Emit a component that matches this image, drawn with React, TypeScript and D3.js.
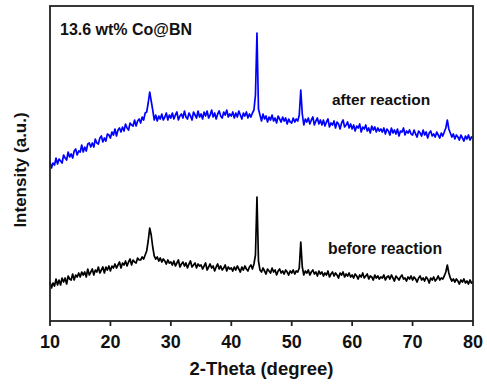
import React from "react";
import * as d3 from "d3";

// 2-theta sampling grid (degrees)
const angles: number[] = d3.range(0, 281).map((i) => 10 + i * 0.25);

const xTicks = [10, 20, 30, 40, 50, 60, 70, 80];

// after reaction (blue), intensity (a.u.)
const afterReaction: number[] = [
  159,153,158,156,163,157,162,160,158,166,163,161,169,164,167,163,170,172,166,170,
  169,176,169,174,170,177,178,174,178,174,182,178,177,183,185,179,183,180,187,186,
  183,189,186,192,185,191,193,189,194,190,197,193,191,198,196,195,201,195,200,202,
  198,204,201,208,209,218,229,220,211,201,206,200,205,202,207,201,204,208,201,206,
  203,208,202,206,209,201,205,207,203,210,204,202,208,205,201,209,206,203,210,204,
  207,202,209,205,210,203,206,211,204,208,202,207,210,205,203,209,206,211,204,207,
  205,209,203,208,204,210,206,202,208,205,209,203,207,204,208,211,226,288,212,206,
  200,207,202,205,199,204,201,206,200,203,198,205,202,199,204,200,203,197,202,199,
  198,203,199,202,200,206,231,207,196,202,199,203,197,201,204,196,200,203,197,201,
  196,201,195,199,202,194,198,196,200,193,199,197,192,198,201,194,196,199,193,197,
  192,196,190,195,193,197,189,194,192,196,190,193,188,195,191,194,189,193,190,192,
  189,193,187,192,190,186,193,188,191,187,192,185,190,189,193,186,190,188,191,187,
  186,191,187,184,190,188,185,191,186,189,183,188,190,185,187,184,189,186,183,188,
  185,189,193,201,192,188,184,187,182,186,184,181,186,183,180,185,182,186,181,184,
  183,
];

// before reaction (black), intensity (a.u.)
const beforeReaction: number[] = [
  39,33,38,35,42,36,41,36,43,39,43,37,45,42,41,47,41,46,44,48,
  44,49,46,49,44,52,46,49,52,46,51,49,54,48,51,54,48,54,51,55,
  50,55,53,57,53,56,59,53,58,56,60,55,59,62,56,61,59,58,63,61,
  61,64,62,66,70,80,93,86,74,65,62,64,60,63,59,62,60,57,61,58,
  59,56,60,55,58,61,54,57,59,55,58,53,57,60,54,56,58,53,57,55,
  56,52,55,58,51,54,57,53,55,50,54,57,52,55,51,53,56,50,54,52,
  53,50,54,51,55,52,49,54,51,55,52,50,54,56,52,57,66,124,60,51,
  49,53,50,47,52,50,48,53,49,51,46,50,52,48,50,47,51,49,46,50,
  48,51,47,50,49,53,79,54,46,50,48,51,46,49,51,47,49,45,50,47,
  49,45,48,46,50,44,47,49,45,48,46,43,48,46,49,44,47,45,48,44,
  46,43,47,45,42,46,44,48,43,45,47,42,45,44,41,46,43,45,42,44,
  43,46,41,44,45,42,46,43,40,45,43,41,44,46,42,43,40,44,42,45,
  41,44,42,39,43,45,41,43,40,44,42,38,43,41,44,40,42,45,41,43,
  42,45,49,56,48,43,40,42,39,42,40,37,41,39,42,38,40,37,41,38,
  39,
];

const W = 487;
const H = 387;
const M = { left: 50, right: 14, top: 6, bottom: 66 };
const FONT = "'Liberation Sans', Arial, Helvetica, sans-serif";

export default function App() {
  const x = d3.scaleLinear().domain([10, 80]).range([M.left, W - M.right]);
  const y = d3.scaleLinear().domain([0, 315]).range([H - M.bottom, M.top]);

  const line = d3
    .line<number>()
    .x((_, i) => x(angles[i]))
    .y((d) => y(d));

  const x0 = M.left;
  const x1 = W - M.right;
  const y0 = H - M.bottom;
  const y1 = M.top;

  return (
    <svg
      width={W}
      height={H}
      style={{ position: "absolute", left: 0, top: 0, background: "#fff" }}
      fontFamily={FONT}
    >
      <path d={line(beforeReaction) || ""} fill="none" stroke="#000" strokeWidth={1.7} strokeLinejoin="round" />
      <path d={line(afterReaction) || ""} fill="none" stroke="#0000ff" strokeWidth={1.7} strokeLinejoin="round" />

      <rect
        x={x0}
        y={y1}
        width={x1 - x0}
        height={y0 - y1}
        fill="none"
        stroke="#222"
        strokeWidth={1.8}
      />

      {xTicks.map((t) => (
        <g key={t}>
          <line x1={x(t)} x2={x(t)} y1={y0} y2={y0 + 5} stroke="#222" strokeWidth={1.8} />
          <text
            x={x(t)}
            y={y0 + 27}
            textAnchor="middle"
            fontSize={18}
            fontWeight="bold"
            fill="#111"
          >
            {t}
          </text>
        </g>
      ))}

      <text
        x={(x0 + x1) / 2}
        y={375}
        textAnchor="middle"
        fontSize={18.5}
        fontWeight="bold"
        fill="#111"
      >
        2-Theta (degree)
      </text>

      <text
        transform={`translate(26, 170) rotate(-90)`}
        textAnchor="middle"
        fontSize={17}
        fontWeight="bold"
        fill="#111"
      >
        Intensity (a.u.)
      </text>

      <text x={60} y={35} fontSize={16} fontWeight="bold" fill="#111">
        13.6 wt% Co@BN
      </text>
      <text x={332} y={105} fontSize={15.5} fontWeight="bold" fill="#111">
        after reaction
      </text>
      <text x={328} y={254} fontSize={15.8} fontWeight="bold" fill="#111">
        before reaction
      </text>
    </svg>
  );
}
